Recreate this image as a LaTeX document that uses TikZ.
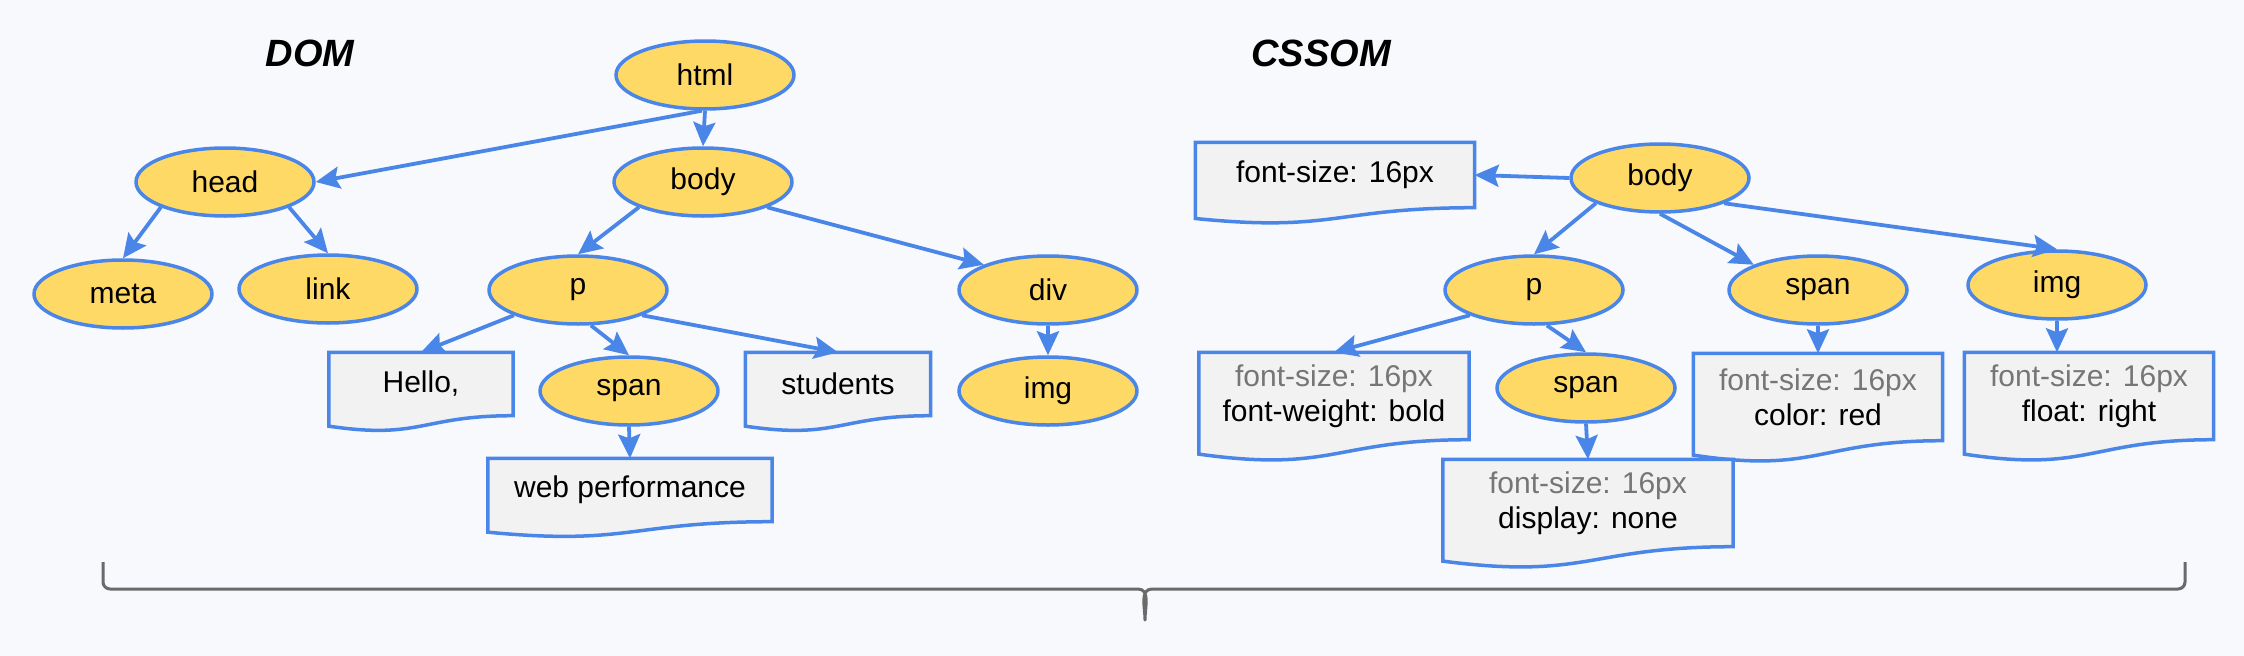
\documentclass[tikz,border=0pt]{standalone}
\usepackage{fontspec}
\setmainfont{Liberation Sans}
\usetikzlibrary{shapes.geometric,arrows.meta,backgrounds,calc}
\definecolor{bg}{HTML}{F8F9FC}
\definecolor{yel}{HTML}{FFD966}
\definecolor{bord}{HTML}{4A86E8}
\definecolor{boxfill}{HTML}{F2F2F2}
\definecolor{gry}{HTML}{767676}
\definecolor{bracecol}{HTML}{6A6A6A}
\def\docshape#1{\draw[docline] let \p1=(#1.north), \p2=(#1.south), \n1={\y1-\y2} in
  (#1.north west) -- (#1.north east) -- (#1.south east)
  .. controls (#1.south) and ([yshift=-0.381*\n1]#1.south) .. ([yshift=-0.165*\n1]#1.south west) -- cycle;}
\def\grey#1{\textcolor{gry}{#1}}

\begin{document}
\begin{tikzpicture}[x=1pt,y=-1pt,line join=round,font=\fontsize{30}{35}\selectfont,
    el/.style={ellipse,draw=bord,fill=yel,line width=3.5pt,minimum width=178pt,minimum height=68pt,inner sep=0pt},
    doc/.style={inner sep=0pt,minimum width=#1,minimum height=63pt,align=center},
    tall/.style={minimum height=87pt},
    docline/.style={draw=bord,fill=boxfill,line width=3.5pt},
    arr/.style={draw=bord,line width=3.8pt,-{Stealth[length=24pt,width=22pt,inset=4pt]}},
    title/.style={font=\fontsize{38}{40}\selectfont\bfseries\itshape}]
  \useasboundingbox (0,0) rectangle (2244,656);

  \node[title] (tdom) at (310,53) {DOM};
  \node[title] (tcss) at (1321,53) {CSSOM};

  \node[el] (html) at (705,75) {html};
  \node[el] (head) at (225,182) {head};
  \node[el] (body) at (703,182) {body};
  \node[el] (meta) at (123,294) {meta};
  \node[el] (link) at (328,289) {link};
  \node[el] (p) at (578,290) {p};
  \node[el] (div) at (1048,290) {div};
  \node[doc=184pt] (hello) at (421,384) {Hello,};
  \node[el] (span) at (629,391) {span};
  \node[doc=185pt] (students) at (838,384) {students};
  \node[el] (img) at (1048,391) {img};
  \node[doc=284pt] (web) at (630,490) {web performance};

  \node[el] (sbody) at (1660,178) {body};
  \node[doc=279pt,minimum height=65pt] (fs) at (1335,175) {font-size: 16px};
  \node[el] (sp) at (1534,290) {p};
  \node[el] (sspan) at (1818,290) {span};
  \node[el] (simg) at (2057,285) {img};
  \node[doc=270pt,tall] (weight) at (1334,396) {\grey{font-size: 16px}\\font-weight: bold};
  \node[el] (sspan2) at (1586,388) {span};
  \node[doc=249pt,tall] (color) at (1818,397) {\grey{font-size: 16px}\\color: red};
  \node[doc=249pt,tall] (float) at (2089,396) {\grey{font-size: 16px}\\float: right};
  \node[doc=290pt,tall] (display) at (1588,503) {\grey{font-size: 16px}\\display: none};

  \begin{scope}[on background layer]
    \fill[bg] (0,0) rectangle (2244,656);
    \docshape{hello} \docshape{students} \docshape{web} \docshape{fs}
    \docshape{weight} \docshape{color} \docshape{float} \docshape{display}
  \end{scope}

  \draw[arr] (html.-95) -- (head.east);
  \draw[arr] (html.south) -- (body.north);
  \draw[arr] (head.south west) -- (meta.north);
  \draw[arr] (head.south east) -- (link.north);
  \draw[arr] (body.south west) -- (p.north);
  \draw[arr] (body.south east) -- (div.north west);
  \draw[arr] (p.south west) -- (hello.north);
  \draw[arr] (p.-70) -- (span.north);
  \draw[arr] (p.south east) -- (students.north);
  \draw[arr] (span.south) -- (web.north);
  \draw[arr] (div.south) -- (img.north);

  \draw[arr] (sbody.west) -- (fs.east);
  \draw[arr] (sbody.south west) -- (sp.north);
  \draw[arr] (sbody.south) -- (sspan.north west);
  \draw[arr] (sbody.south east) -- (simg.north);
  \draw[arr] (sp.south west) -- (weight.north);
  \draw[arr] (sp.-70) -- (sspan2.north);
  \draw[arr] (sspan.south) -- (color.north);
  \draw[arr] (simg.south) -- (simg.south |- float.north);
  \draw[arr] (sspan2.south) -- (display.north);

  \draw[bracecol,line width=3pt] (103,562) -- (103,582) to[out=-90,in=180] (110,589) -- (1138,589)
    to[out=0,in=90] (1145,620) to[out=90,in=180] (1152,589) -- (2178,589) to[out=0,in=-90] (2185,582) -- (2185,562);
\end{tikzpicture}
\end{document}
